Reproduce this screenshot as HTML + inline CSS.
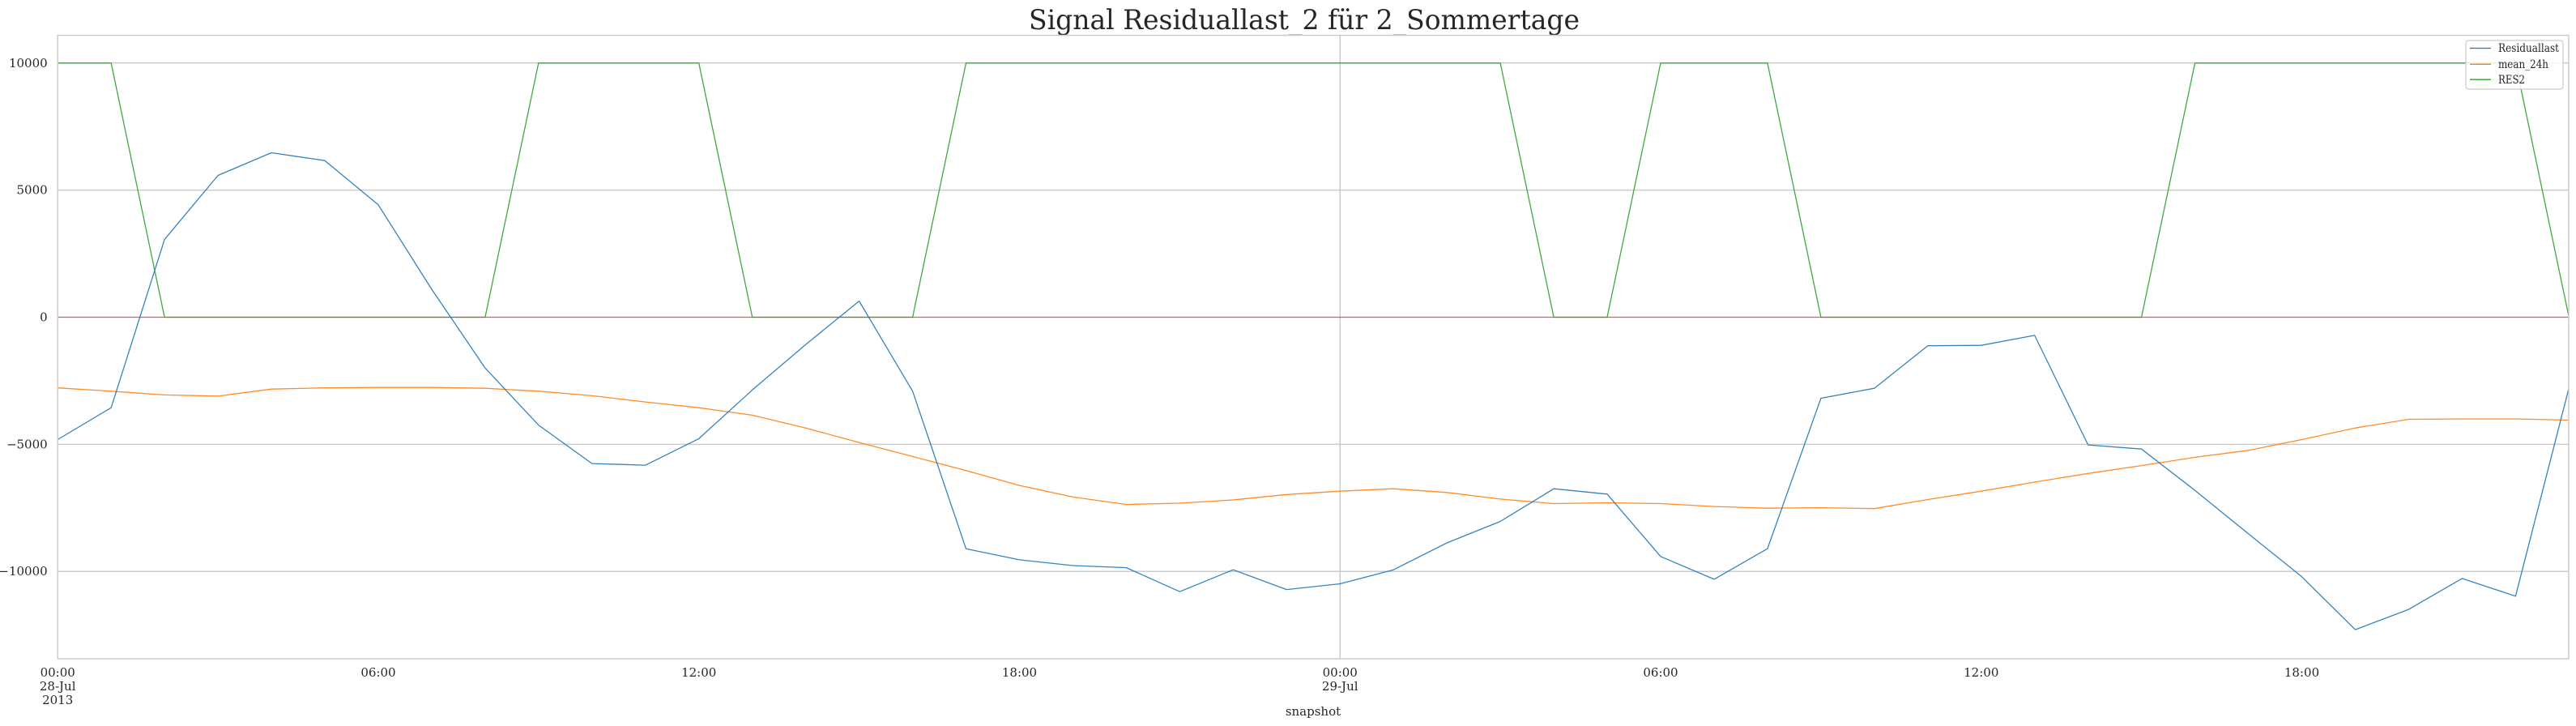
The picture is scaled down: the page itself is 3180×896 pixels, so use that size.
<!DOCTYPE html>
<html><head><meta charset="utf-8"><style>
html,body{margin:0;padding:0;background:#fff;}
svg{display:block;font-family:"DejaVu Serif","Liberation Serif",serif;}
</style></head><body>
<svg id="chart" width="3180" height="896" viewBox="0 0 3180 896" xmlns="http://www.w3.org/2000/svg">
<text x="1610" y="36" text-anchor="middle" font-size="34" fill="#262626" textLength="680" lengthAdjust="spacingAndGlyphs">Signal Residuallast_2 für 2_Sommertage</text>
<g id="grid"></g>
<g id="axes"></g>
<g id="series"></g>
<rect x="71.2" y="43.6" width="3099.8" height="769.4" fill="none" stroke="#cccccc" stroke-width="1.5"/>
<g>
<rect x="3044" y="50" width="120" height="60" rx="3" fill="#fff" fill-opacity="0.85" stroke="#cccccc" stroke-width="1.2"/>
<line x1="3049" y1="59.5" x2="3075" y2="59.5" stroke="#1f77b4" stroke-width="1.3"/>
<text x="3084" y="64" font-size="14" fill="#262626" textLength="75" lengthAdjust="spacingAndGlyphs">Residuallast</text>
<line x1="3049" y1="79.3" x2="3075" y2="79.3" stroke="#ff7f0e" stroke-width="1.3"/>
<text x="3084" y="84" font-size="14" fill="#262626" textLength="62" lengthAdjust="spacingAndGlyphs">mean_24h</text>
<line x1="3049" y1="98.2" x2="3075" y2="98.2" stroke="#2ca02c" stroke-width="1.3"/>
<text x="3084" y="103" font-size="14" fill="#262626" textLength="33" lengthAdjust="spacingAndGlyphs">RES2</text>
</g>
<text x="1621" y="883" text-anchor="middle" font-size="15" fill="#262626">snapshot</text>
</svg>
<script>
const hours = [0,1,2,3,4,5,6,7,8,9,10,11,12,13,14,15,16,17,18,19,20,21,22,23,24,25,26,27,28,29,30,31,32,33,34,35,36,37,38,39,40,41,42,43,44,45,46,47];
const residuallast = [-4813,-3561,3057,5577,6471,6163,4423,1100,-2000,-4244,-5756,-5821,-4780,-2862,-1073,634,-2911,-9106,-9545,-9772,-9854,-10797,-9935,-10715,-10488,-9935,-8878,-8032,-6748,-6959,-9415,-10309,-9106,-3187,-2797,-1122,-1106,-715,-5024,-5187,-6813,-8520,-10211,-12293,-11496,-10276,-10976,-2780];
const mean24h = [-2780,-2911,-3057,-3106,-2829,-2780,-2764,-2764,-2797,-2911,-3089,-3333,-3561,-3854,-4358,-4927,-5480,-6033,-6618,-7073,-7366,-7317,-7187,-6976,-6845,-6748,-6894,-7154,-7333,-7301,-7333,-7447,-7512,-7496,-7528,-7171,-6845,-6488,-6146,-5837,-5512,-5236,-4813,-4358,-4016,-4000,-4000,-4049];
const res2 = [10000,10000,0,0,0,0,0,0,0,10000,10000,10000,10000,0,0,0,0,10000,10000,10000,10000,10000,10000,10000,10000,10000,10000,10000,0,0,10000,10000,10000,0,0,0,0,0,0,0,10000,10000,10000,10000,10000,10000,10000,0];
const yTicks = [-10000,-5000,0,5000,10000];
const yTickLabels = ["\u221210000","\u22125000","0","5000","10000"];
const xTickHours = [0,6,12,18,24,30,36,42];
const xTickLabels = [["00:00","28-Jul","2013"],["06:00"],["12:00"],["18:00"],["00:00","29-Jul"],["06:00"],["12:00"],["18:00"]];

const NS = "http://www.w3.org/2000/svg";
const X0 = 71.2, PXH = 65.96;
const Y0 = 391.5, PXU = 0.03137;
function xs(h){ return X0 + h*PXH; }
function ys(v){ return Y0 - v*PXU; }
function mk(tag, attrs, parent){ const e=document.createElementNS(NS,tag); for(const k in attrs) e.setAttribute(k,attrs[k]); parent.appendChild(e); return e; }

const grid=document.getElementById('grid'), axes=document.getElementById('axes'), series=document.getElementById('series');
yTicks.forEach((v,i)=>{
  if(v!==0){
    const l=mk('line',{x1:X0,x2:3171,y1:ys(v),y2:ys(v),stroke:'#cccccc','stroke-width':1.5},grid);
    
    
  }
  const t=mk('text',{x:58.7,y:ys(v)+5,'text-anchor':'end','font-size':15,fill:'#262626'},axes);
  t.textContent=yTickLabels[i];
  
  
});
xTickHours.forEach((h,i)=>{
  if(h===24){
    const l=mk('line',{x1:xs(h),x2:xs(h),y1:43.6,y2:813,stroke:'#cccccc','stroke-width':1.5},grid);
    
    
  }
  const lines=xTickLabels[i];
  lines.forEach((s,j)=>{
    const t=mk('text',{x:xs(h),y:835+j*17,'text-anchor':'middle','font-size':15,fill:'#262626'},axes);
    t.textContent=s;
    
    
  });
});
const zero=mk('line',{x1:X0,x2:3171,y1:ys(0),y2:ys(0),stroke:'#d62728','stroke-width':1.2,'stroke-opacity':0.75},series);


function line(data,color,name){
  const d=data.map((v,i)=>(i?'L':'M')+xs(hours[i]).toFixed(1)+' '+ys(v).toFixed(1)).join(' ');
  const p=mk('path',{d:d,fill:'none',stroke:color,'stroke-width':1.3,'stroke-opacity':0.9,'stroke-linejoin':'round'},series);
  
  
}
line(res2,'#2ca02c','res2-line');
line(mean24h,'#ff7f0e','mean-24h-line');
line(residuallast,'#1f77b4','residuallast-line');
</script>
</body></html>
